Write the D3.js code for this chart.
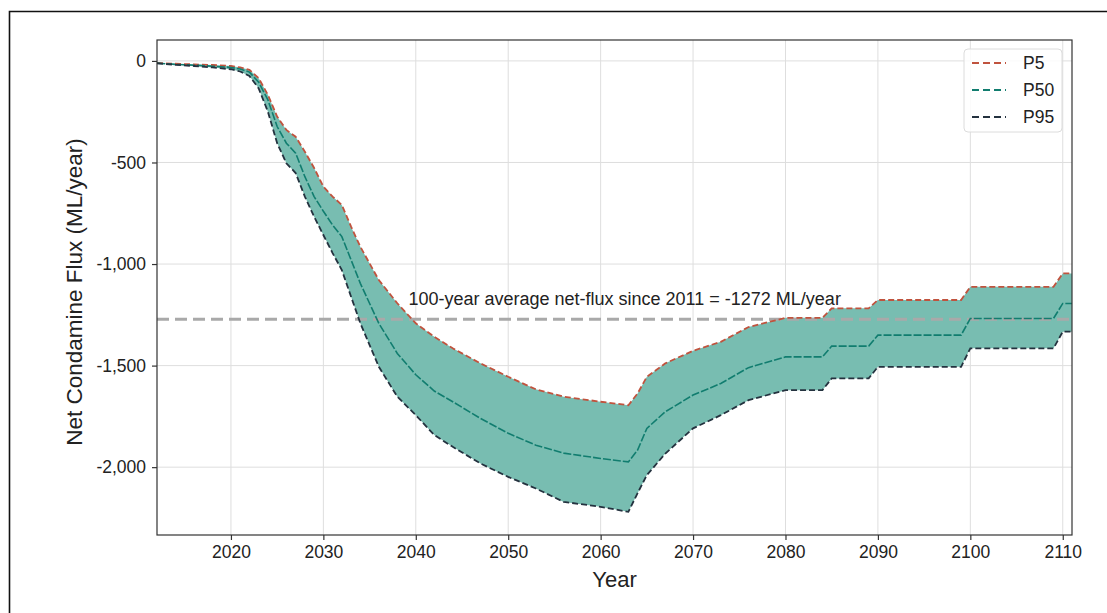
<!DOCTYPE html>
<html>
<head>
<meta charset="utf-8">
<script src="https://cdn.jsdelivr.net/npm/d3@7"></script>
<style>
  body { margin: 0; background: #fff; }
  svg { display: block; font-family: "Liberation Sans", Arial, sans-serif; }
</style>
</head>
<body>
<div id="chart"></div>
<script>
// years, shared by all three series
var years = [2012, 2014, 2016, 2018, 2020, 2021, 2022, 2023, 2024, 2025, 2026, 2027, 2028, 2029, 2030,
  2031, 2032, 2033, 2034, 2036, 2038, 2040, 2042, 2044, 2047, 2050, 2053, 2056, 2060, 2063,
  2064, 2065, 2067, 2070, 2073, 2076, 2080, 2084, 2085, 2089, 2090, 2099, 2100, 2109, 2110, 2111];
var p5 = [-10, -14, -17, -20, -25, -32, -44, -85, -167, -274, -340, -373, -447, -527, -619,
  -668, -709, -816, -915, -1079, -1193, -1292, -1358, -1415, -1489, -1555, -1617, -1653, -1678, -1695,
  -1637, -1555, -1489, -1427, -1383, -1310, -1265, -1265, -1218, -1218, -1177, -1177, -1112, -1112, -1046, -1046];
var p50 = [-11, -17, -21, -26, -32, -40, -55, -105, -192, -323, -405, -454, -570, -668, -740,
  -808, -865, -980, -1095, -1292, -1440, -1545, -1625, -1678, -1760, -1833, -1892, -1931, -1957, -1974,
  -1916, -1809, -1727, -1645, -1588, -1510, -1457, -1457, -1404, -1404, -1350, -1350, -1268, -1268, -1194, -1194];
var p95 = [-12, -19, -25, -32, -41, -52, -74, -135, -250, -405, -504, -552, -668, -767, -857,
  -946, -1030, -1161, -1291, -1506, -1653, -1744, -1842, -1900, -1982, -2048, -2105, -2171, -2195, -2220,
  -2128, -2039, -1933, -1809, -1744, -1670, -1621, -1621, -1563, -1563, -1506, -1506, -1415, -1415, -1333, -1333];
var avgFlux = -1272;
var xTicks = [2020, 2030, 2040, 2050, 2060, 2070, 2080, 2090, 2100, 2110];
var yTicks = [0, -500, -1000, -1500, -2000];
var seriesNames = ["P5", "P50", "P95"];
var seriesColors = ["#c0533e", "#117d6f", "#24323f"];

var W = 1107, H = 613;
var margin = {left: 157, top: 40, right: 1072, bottom: 535};

var svg = d3.select("#chart").append("svg")
  .attr("width", W)
  .attr("height", H);

// figure frame (only left and top edges fall inside the picture)
svg.append("path")
  .attr("d", "M9.5," + H + "V11.5H" + W)
  .attr("fill", "none")
  .attr("stroke", "#111")
  .attr("stroke-width", 1.6);

var x = d3.scaleLinear().domain([2012, 2111]).range([margin.left, margin.right]);
var y = d3.scaleLinear().domain([-2334, 103]).range([margin.bottom, margin.top]);

// grid
svg.append("g").selectAll("line").data(xTicks).enter().append("line")
  .attr("x1", function(d) { return x(d); })
  .attr("x2", function(d) { return x(d); })
  .attr("y1", margin.top).attr("y2", margin.bottom)
  .attr("stroke", "#dedede").attr("stroke-width", 1);
svg.append("g").selectAll("line").data(yTicks).enter().append("line")
  .attr("y1", function(d) { return y(d); })
  .attr("y2", function(d) { return y(d); })
  .attr("x1", margin.left).attr("x2", margin.right)
  .attr("stroke", "#dedede").attr("stroke-width", 1);

var rows = years.map(function(yr, i) {
  return {year: yr, p5: p5[i], p50: p50[i], p95: p95[i]};
});

// band between P5 and P95
var area = d3.area()
  .x(function(d) { return x(d.year); })
  .y0(function(d) { return y(d.p95); })
  .y1(function(d) { return y(d.p5); });
svg.append("path")
  .datum(rows)
  .attr("d", area)
  .attr("fill", "#78bdb1");

// average line
svg.append("line")
  .attr("x1", margin.left).attr("x2", margin.right)
  .attr("y1", y(avgFlux)).attr("y2", y(avgFlux))
  .attr("stroke", "#a9a9a9")
  .attr("stroke-width", 3)
  .attr("stroke-dasharray", "12,6");

var keys = ["p5", "p50", "p95"];
keys.forEach(function(k, i) {
  var line = d3.line()
    .x(function(d) { return x(d.year); })
    .y(function(d) { return y(d[k]); });
  svg.append("path")
    .datum(rows)
    .attr("d", line)
    .attr("fill", "none")
    .attr("stroke", seriesColors[i])
    .attr("stroke-width", i == 1 ? 1.6 : 1.8)
    .attr("stroke-dasharray", i == 1 ? "8,2" : "6,3");
});

svg.append("text")
  .attr("x", x(2062.6))
  .attr("y", 305)
  .attr("text-anchor", "middle")
  .attr("font-size", 18)
  .attr("fill", "#222")
  .text("100-year average net-flux since 2011 = " + avgFlux + " ML/year");

// axes
var xAxis = svg.append("g")
  .attr("transform", "translate(0," + margin.bottom + ")")
  .call(d3.axisBottom(x).tickValues(xTicks).tickFormat(d3.format("d")).tickSize(5).tickPadding(6));
var yAxis = svg.append("g")
  .attr("transform", "translate(" + margin.left + ",0)")
  .call(d3.axisLeft(y).tickValues(yTicks).tickFormat(d3.format(",")).tickSize(5).tickPadding(6));
[xAxis, yAxis].forEach(function(a) {
  a.select(".domain").remove();
  a.selectAll("line").attr("stroke", "#333").attr("stroke-width", 1.2);
  a.selectAll("text").attr("font-size", 17.5).attr("fill", "#222")
    .attr("font-family", "'Liberation Sans', Arial, sans-serif");
});
yAxis.selectAll("text").text(function(d) { return d3.format(",")(d).replace("−", "-"); });

// plot frame
svg.append("rect")
  .attr("x", margin.left).attr("y", margin.top)
  .attr("width", margin.right - margin.left)
  .attr("height", margin.bottom - margin.top)
  .attr("fill", "none")
  .attr("stroke", "#333")
  .attr("stroke-width", 1.2);

svg.append("text")
  .attr("x", (margin.left + margin.right) / 2)
  .attr("y", 587)
  .attr("text-anchor", "middle")
  .attr("font-size", 22)
  .attr("fill", "#222")
  .text("Year");

svg.append("text")
  .attr("transform", "translate(82,292) rotate(-90)")
  .attr("text-anchor", "middle")
  .attr("font-size", 22.5)
  .attr("fill", "#222")
  .text("Net Condamine Flux (ML/year)");

// legend
var legend = svg.append("g").attr("transform", "translate(964,49)");
legend.append("rect")
  .attr("width", 98).attr("height", 83)
  .attr("rx", 4)
  .attr("fill", "#fff").attr("fill-opacity", 0.85)
  .attr("stroke", "#dcdcdc");
seriesNames.forEach(function(name, i) {
  var ly = 14 + i * 27;
  legend.append("line")
    .attr("x1", 8).attr("x2", 42)
    .attr("y1", ly).attr("y2", ly)
    .attr("stroke", seriesColors[i])
    .attr("stroke-width", 2)
    .attr("stroke-dasharray", "7,4");
  legend.append("text")
    .attr("x", 59).attr("y", ly + 6)
    .attr("font-size", 17.5)
    .attr("fill", "#222")
    .text(name);
});
</script>
</body>
</html>
